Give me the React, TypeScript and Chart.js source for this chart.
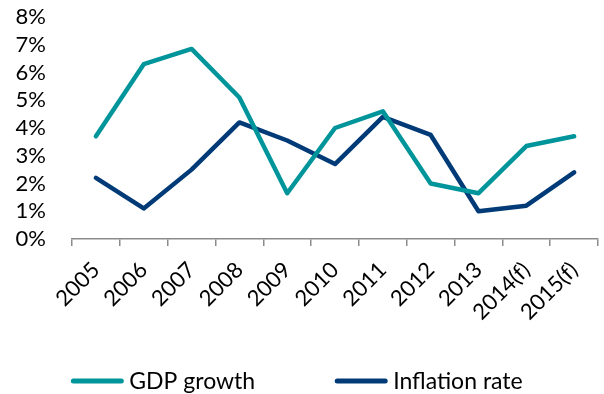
import { useEffect, useRef } from 'react';
import { Chart, registerables } from 'chart.js';

Chart.register(...registerables);

const categories = ['2005', '2006', '2007', '2008', '2009', '2010', '2011', '2012', '2013', '2014(f)', '2015(f)'];
const gdpGrowth = [3.7, 6.3, 6.85, 5.1, 1.65, 4.0, 4.6, 2.0, 1.65, 3.35, 3.7];
const inflationRate = [2.2, 1.1, 2.5, 4.2, 3.55, 2.7, 4.4, 3.75, 1.0, 1.2, 2.4];
const seriesNames = ['GDP growth', 'Inflation rate'];
const yMin = 0;
const yMax = 8;
const yStep = 1;

const FONT = 'Lato';
const TEAL = '#00959A';
const NAVY = '#003B78';
const AXIS_GRAY = '#8C8C8C';

const legendPlugin = {
  id: 'bottomLineLegend',
  afterDraw(chart: any) {
    const ctx = chart.ctx;
    const ds = chart.data.datasets;
    const size = 23;
    ctx.save();
    ctx.font = `${size}px ${FONT}`;
    const lineW = 52;
    const gapText = 6;
    const gapItem = 80;
    const widths = ds.map((d: any) => lineW + gapText + ctx.measureText(d.label).width);
    const total = widths.reduce((a: number, b: number) => a + b, 0) + gapItem * (ds.length - 1);
    let x = (chart.width - total) / 2 - 5;
    const y = chart.height - 13;
    ds.forEach((d: any, i: number) => {
      ctx.strokeStyle = d.borderColor;
      ctx.lineWidth = 5;
      ctx.lineCap = 'round';
      ctx.beginPath();
      ctx.moveTo(x + 2, y);
      ctx.lineTo(x + lineW - 2, y);
      ctx.stroke();
      ctx.fillStyle = '#000000';
      ctx.textAlign = 'left';
      ctx.textBaseline = 'middle';
      ctx.fillText(d.label, x + lineW + gapText, y + 1);
      x += widths[i] + gapItem;
    });
    ctx.restore();
  },
};

export default function App() {
  const canvasRef = useRef<HTMLCanvasElement | null>(null);

  useEffect(() => {
    document.body.style.margin = '0';
    const canvas = canvasRef.current;
    if (!canvas) return;
    const chart = new Chart(canvas, {
      type: 'line',
      data: {
        labels: categories,
        datasets: [
          {
            label: seriesNames[0],
            data: gdpGrowth,
            borderColor: TEAL,
            backgroundColor: TEAL,
            borderWidth: 4.5,
            pointRadius: 0,
            tension: 0,
            borderJoinStyle: 'round',
            borderCapStyle: 'round',
          },
          {
            label: seriesNames[1],
            data: inflationRate,
            borderColor: NAVY,
            backgroundColor: NAVY,
            borderWidth: 4.5,
            pointRadius: 0,
            tension: 0,
            borderJoinStyle: 'round',
            borderCapStyle: 'round',
          },
        ],
      },
      options: {
        responsive: false,
        animation: false,
        layout: { padding: { top: 17, right: 4, left: 0, bottom: 55 } },
        plugins: {
          legend: { display: false },
          tooltip: { enabled: false },
        },
        scales: {
          x: {
            type: 'category',
            offset: true,
            border: { display: true, color: AXIS_GRAY, width: 1.5 },
            grid: {
              display: true,
              offset: true,
              drawOnChartArea: false,
              drawTicks: true,
              tickLength: 7,
              color: AXIS_GRAY,
              lineWidth: 1.5,
            },
            ticks: {
              color: '#000000',
              font: { family: FONT, size: 22 },
              minRotation: 45,
              maxRotation: 45,
              autoSkip: false,
              padding: 11,
            },
            afterFit: (scale: any) => {
              scale.height = 100;
            },
          },
          y: {
            min: yMin,
            max: yMax,
            border: { display: false },
            grid: { display: false, drawTicks: false },
            ticks: {
              stepSize: yStep,
              autoSkip: false,
              color: '#000000',
              font: { family: FONT, size: 22 },
              padding: 26,
              callback: (v: any) => `${v}%`,
            },
            afterFit: (scale: any) => {
              scale.width = 72;
              scale.paddingTop = 0;
              scale.paddingBottom = 0;
            },
          },
        },
      },
      plugins: [legendPlugin],
    });
    return () => chart.destroy();
  }, []);

  return (
    <div style={{ width: 604, height: 394 }}>
      <canvas ref={canvasRef} width={604} height={394} style={{ display: 'block' }} />
    </div>
  );
}
